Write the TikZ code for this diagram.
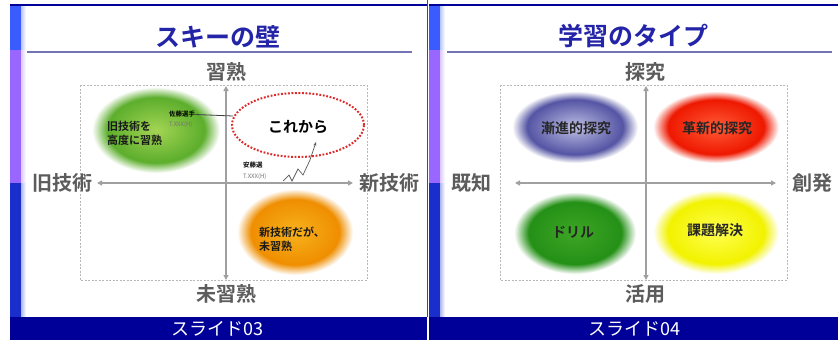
\documentclass[tikz,border=0pt]{standalone}
\usepackage{fontspec}
\setmainfont{Noto Sans CJK JP}[BoldFont={Noto Sans CJK JP Bold}]
\usetikzlibrary{arrows.meta,shapes.geometric}
\definecolor{navy}{HTML}{000099}
\definecolor{stripeblue}{HTML}{3A5CFF}
\definecolor{stripepurple}{HTML}{9966FF}
\definecolor{stripedark}{HTML}{1A2ECC}
\definecolor{titleblue}{HTML}{2424A8}
\definecolor{ruleblue}{HTML}{7474B4}
\definecolor{axgray}{HTML}{A0A0A0}
\definecolor{labgray}{HTML}{5C5C5C}
\definecolor{boxgray}{HTML}{B8B8B8}
\definecolor{dashred}{HTML}{DD2A2A}
% shading colours
\definecolor{gA}{HTML}{A4D454}\definecolor{gB}{HTML}{5CAE2C}
\definecolor{oA}{HTML}{F7B21C}\definecolor{oB}{HTML}{EF8E00}
\definecolor{bA}{HTML}{BEBEE4}\definecolor{bB}{HTML}{5454A4}
\definecolor{rA}{HTML}{FF5A34}\definecolor{rB}{HTML}{EE1800}
\definecolor{dA}{HTML}{3EA626}\definecolor{dB}{HTML}{249016}
\definecolor{yA}{HTML}{FFFF50}\definecolor{yB}{HTML}{F2F200}
\pgfdeclareradialshading{greenball}{\pgfpoint{0bp}{0bp}}{color(0bp)=(gA); color(19bp)=(gB); color(25bp)=(white); color(50bp)=(white)}
\pgfdeclareradialshading{orangeball}{\pgfpoint{0bp}{0bp}}{color(0bp)=(oA); color(19bp)=(oB); color(25bp)=(white); color(50bp)=(white)}
\pgfdeclareradialshading{blueball}{\pgfpoint{0bp}{0bp}}{color(0bp)=(bA); color(19bp)=(bB); color(25bp)=(white); color(50bp)=(white)}
\pgfdeclareradialshading{redball}{\pgfpoint{0bp}{0bp}}{color(0bp)=(rA); color(19bp)=(rB); color(25bp)=(white); color(50bp)=(white)}
\pgfdeclareradialshading{drillball}{\pgfpoint{0bp}{0bp}}{color(0bp)=(dA); color(19bp)=(dB); color(25bp)=(white); color(50bp)=(white)}
\pgfdeclareradialshading{yellowball}{\pgfpoint{0bp}{0bp}}{color(0bp)=(yA); color(19bp)=(yB); color(25bp)=(white); color(50bp)=(white)}
\begin{document}
\begin{tikzpicture}[x=1pt,y=-1pt,
  ax/.style={draw=axgray, line width=1.5pt, {Triangle[length=5pt,width=5pt]}-{Triangle[length=5pt,width=5pt]}},
  axlabel/.style={font=\fontsize{20}{20}\selectfont\bfseries, text=labgray, inner sep=0pt},
  blob/.style={ellipse, inner sep=0pt, shade},
  blobtext/.style={font=\fontsize{14}{14}\selectfont\bfseries, text=black!85, inner sep=0pt},
  smalltext/.style={font=\fontsize{11}{14}\selectfont\bfseries, text=black!90, inner sep=0pt, align=left, anchor=west},
  tinyname/.style={font=\fontsize{6.5}{6.5}\selectfont\bfseries, inner sep=0pt, anchor=west},
  tinygray/.style={font=\fontsize{6}{6}\selectfont, text=black!55, inner sep=0pt, anchor=west},
  boxline/.style={draw=boxgray, dash pattern=on 2pt off 1.5pt, line width=0.7pt},
  titlestyle/.style={font=\fontsize{25}{25}\selectfont\bfseries, text=titleblue, inner sep=0pt},
  capstyle/.style={font=\fontsize{18}{18}\selectfont, text=white, inner sep=0pt},
  rulestyle/.style={draw=ruleblue, line width=1.3pt}]
\useasboundingbox (0,0) rectangle (838,340);
\fill[white] (0,0) rectangle (838,340);

% ---------- frames ----------
\foreach \x/\w in {10/426.5, 429/838} {
  \fill[navy] (\x,3.5) rectangle (\w,6);
  \fill[stripeblue] (\x,6) rectangle (\x+11,50);
  \fill[stripepurple] (\x,50) rectangle (\x+11,183);
  \fill[stripedark] (\x,183) rectangle (\x+11,317);
  \shade[left color=stripeblue!35, right color=white] (\x+11,6) rectangle (\x+16,50);
  \shade[left color=stripepurple!35, right color=white] (\x+11,50) rectangle (\x+16,183);
  \shade[left color=stripedark!35, right color=white] (\x+11,183) rectangle (\x+16,317);
  \fill[navy] (\x,317) rectangle (\w,340);
}
\draw[black!70, line width=0.8pt] (427.8,0) -- (427.8,317);

% ---------- slide 03 ----------
\node[titlestyle] (t1) at (218,37) {スキーの壁};
\coordinate (r1a) at (27,52); \coordinate (r1b) at (412,52);
\draw[rulestyle] (r1a) -- (r1b);

\draw[boxline] (80,85) rectangle (367,280);

\node[blob, shading=greenball, minimum width=128pt, minimum height=86pt] (green) at (156,130) {};
\node[blob, shading=orangeball, minimum width=116pt, minimum height=86pt] (orange) at (295,232) {};
\node[ellipse, draw=dashred, line width=2pt, dash pattern=on 1.8pt off 1.7pt, minimum width=132pt, minimum height=64pt] (future) at (298,125) {};

\coordinate (v1t) at (226,86); \coordinate (v1b) at (226,280);
\coordinate (h1l) at (97,183); \coordinate (h1r) at (353,183);
\draw[ax] (v1t) -- (v1b);
\draw[ax] (h1l) -- (h1r);

\node[axlabel] (l1t) at (226,72) {習熟};
\node[axlabel] (l1b) at (226,294) {未習熟};
\node[axlabel] (l1l) at (62,183) {旧技術};
\node[axlabel] (l1r) at (389,183) {新技術};

\node[smalltext] (gtext) at (107,133.5) {旧技術を\\高度に習熟};
\node[smalltext] (otext) at (259,239) {新技術だが、\\未習熟};
\node[font=\fontsize{15}{15}\selectfont\bfseries, inner sep=0pt] (ftext) at (298,127) {これから};

\node[tinyname] (n1) at (169,114.5) {佐藤選手};
\node[tinygray] (n1s) at (169,125) {T.XXX(H)};
\coordinate (n1end) at (233,116);
\draw[black!75, line width=0.8pt] (n1.east) -- (n1end);

\node[tinyname] (n2) at (243,165.5) {安藤選};
\node[tinygray] (n2s) at (243,176.5) {T.XXX(H)};
\coordinate (z0) at (283,181); \coordinate (z1) at (289,175);
\coordinate (z2) at (292,181); \coordinate (z3) at (298,169);
\coordinate (z4) at (303,175); \coordinate (z5) at (310,160);
\coordinate (z6) at (316,142);
\draw[black!65, line width=0.7pt, -{Stealth[length=4pt,width=3pt]}] (z0) -- (z1) -- (z2) -- (z3) -- (z4) -- (z5) -- (z6);

\node[capstyle] (c1) at (217,328.5) {スライド03};

% ---------- slide 04 ----------
\node[titlestyle] (t2) at (633,36) {学習のタイプ};
\coordinate (r2a) at (447,52); \coordinate (r2b) at (832,52);
\draw[rulestyle] (r2a) -- (r2b);

\draw[boxline] (500,85) rectangle (787,280);

\node[blob, shading=blueball, minimum width=126pt, minimum height=72pt] (inc) at (575,127) {};
\node[blob, shading=redball, minimum width=126pt, minimum height=72pt] (inn) at (716,127) {};
\node[blob, shading=drillball, minimum width=122pt, minimum height=82pt] (dri) at (575,233) {};
\node[blob, shading=yellowball, minimum width=126pt, minimum height=84pt] (sol) at (716,232) {};

\coordinate (v2t) at (646,86); \coordinate (v2b) at (646,280);
\coordinate (h2l) at (515,183); \coordinate (h2r) at (776,183);
\draw[ax] (v2t) -- (v2b);
\draw[ax] (h2l) -- (h2r);

\node[axlabel] (l2t) at (645,72) {探究};
\node[axlabel] (l2b) at (645,294) {活用};
\node[axlabel] (l2l) at (471,183) {既知};
\node[axlabel] (l2r) at (812,183) {創発};

\node[blobtext] (inct) at (576,128) {漸進的探究};
\node[blobtext] (innt) at (717,128) {革新的探究};
\node[blobtext] (drit) at (573,232) {ドリル};
\node[blobtext] (solt) at (715,230) {課題解決};

\node[capstyle] (c2) at (634,328.5) {スライド04};
\end{tikzpicture}
\end{document}
